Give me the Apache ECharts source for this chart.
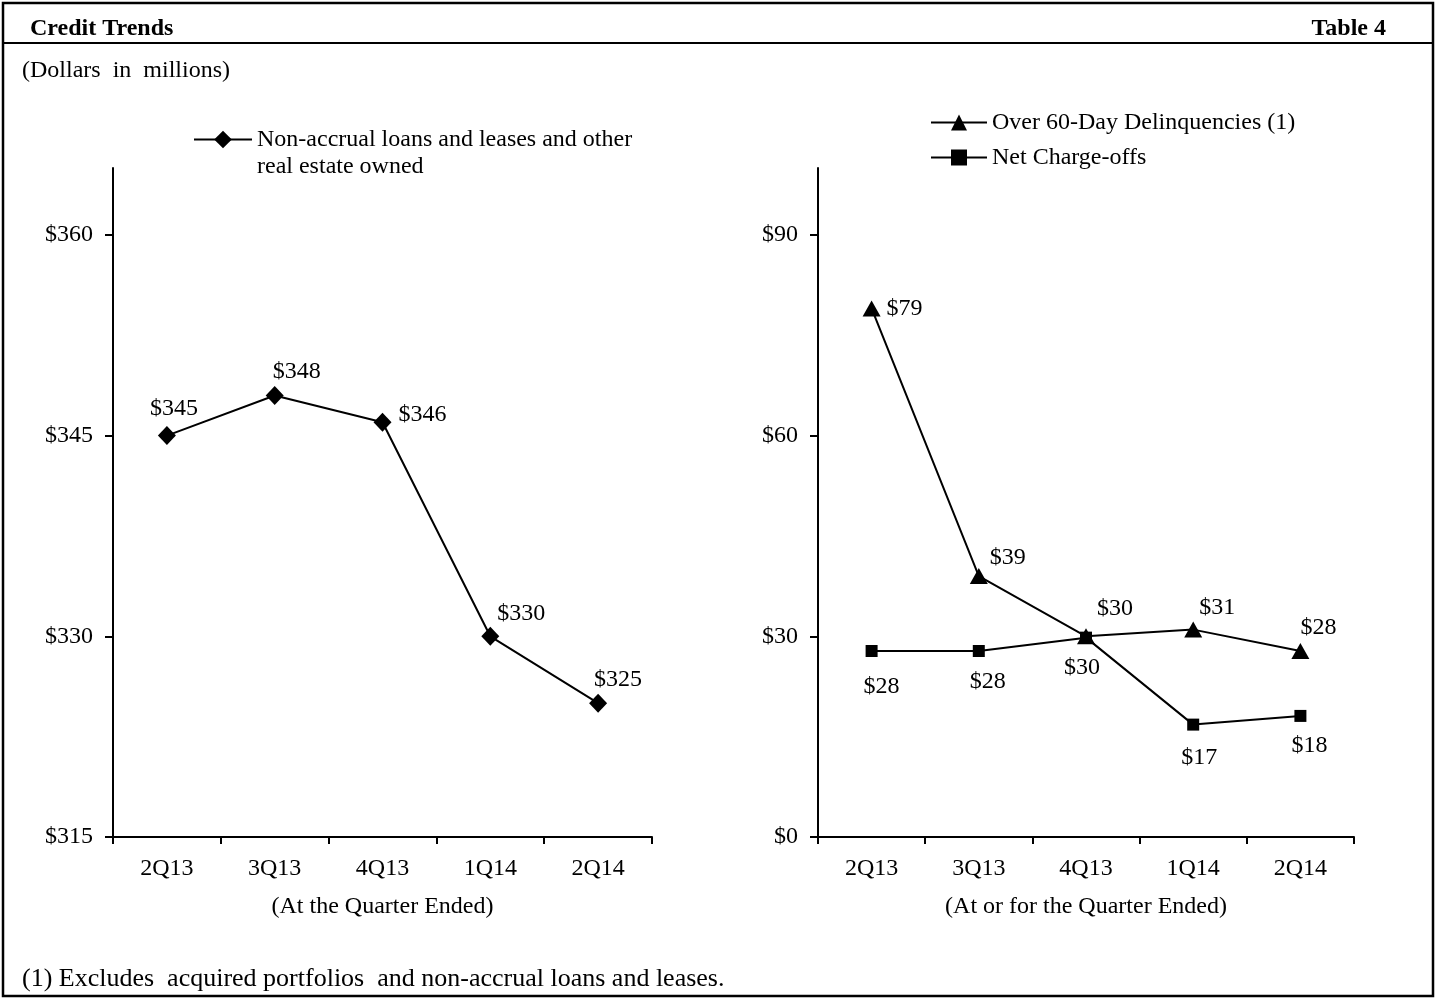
<!DOCTYPE html>
<html><head><meta charset="utf-8">
<script src="https://cdn.jsdelivr.net/npm/echarts@6/dist/echarts.min.js"></script>
<style>html,body{margin:0;padding:0;background:#fff}#c{width:1438px;height:999px}</style>
</head><body><div id="c"></div>
<script>
// ---- data ----
const categories = ['2Q13', '3Q13', '4Q13', '1Q14', '2Q14'];
const nonAccrual = [345, 348, 346, 330, 325];
const delinquencies = [79, 39, 30, 31, 27.8];
const chargeOffs = [27.8, 27.8, 29.8, 16.8, 18.1];
const leftTicks = [315, 330, 345, 360];
const rightTicks = [0, 30, 60, 90];

// ---- styling (label offsets) ----
const FF = "'Liberation Serif', 'Times New Roman', serif";
const leftOff = [[7, -27], [22, -24], [40, -8], [31, -23], [20, -23]];
const triOff = [[33, 0], [29, -18], [29, -28], [24, -22], [18, -23]];
const sqOff = [[10, 36], [9, 31], [-4, 30], [6, 33], [9, 30]];

function withLabels(vals, offs) {
  return vals.map((v, i) => ({
    value: v,
    label: { offset: offs[i] }
  }));
}
const lbl = {
  show: true, position: 'inside', color: '#000', fontFamily: FF, fontSize: 24,
  textBorderWidth: 0, formatter: p => '$' + Math.round(p.value)
};

function xAx(idx, name) {
  return {
    type: 'category', gridIndex: idx, data: categories, boundaryGap: true,
    axisLine: { show: true, onZero: false, lineStyle: { color: '#000', width: 2 } },
    axisTick: { show: true, length: 7, lineStyle: { color: '#000', width: 2 } },
    axisLabel: { color: '#000', fontFamily: FF, fontSize: 24, margin: 20 },
    name: name, nameLocation: 'middle', nameGap: 58,
    nameTextStyle: { color: '#000', fontFamily: FF, fontSize: 24 },
    splitLine: { show: false }
  };
}
function yAx(idx, min, max, interval, ticks) {
  return {
    type: 'value', gridIndex: idx, min: min, max: max, interval: interval,
    axisLine: { show: true, lineStyle: { color: '#000', width: 2 } },
    axisTick: { show: true, length: 8, customValues: ticks, lineStyle: { color: '#000', width: 2 } },
    axisLabel: { color: '#000', fontFamily: FF, fontSize: 24, margin: 20,
      customValues: ticks, formatter: v => '$' + v },
    splitLine: { show: false }
  };
}

const chart = echarts.init(document.getElementById('c'), null, { renderer: 'canvas' });
chart.setOption({
  backgroundColor: '#fff',
  animation: false,
  grid: [
    { left: 113, top: 168, width: 539, height: 669 },
    { left: 818, top: 168, width: 536, height: 669 }
  ],
  xAxis: [xAx(0, '(At the Quarter Ended)'), xAx(1, '(At or for the Quarter Ended)')],
  yAxis: [yAx(0, 315, 365, 15, leftTicks), yAx(1, 0, 100, 30, rightTicks)],
  legend: [
    {
      data: ['Non-accrual loans and leases and other real estate owned'],
      left: 188, top: 94, itemWidth: 58, itemHeight: 22, itemGap: 0,
      formatter: () => ' \nNon-accrual loans and leases and other\nreal estate owned',
      textStyle: { color: '#000', fontFamily: FF, fontSize: 24, lineHeight: 27 }
    },
    {
      data: ['Over 60-Day Delinquencies (1)', 'Net Charge-offs'],
      orient: 'vertical', left: 925, top: 104, itemWidth: 56, itemHeight: 20, itemGap: 8,
      textStyle: { color: '#000', fontFamily: FF, fontSize: 24, lineHeight: 27 }
    }
  ],
  series: [
    {
      name: 'Non-accrual loans and leases and other real estate owned',
      type: 'line', xAxisIndex: 0, yAxisIndex: 0,
      data: withLabels(nonAccrual, leftOff),
      symbol: 'diamond', symbolSize: [18, 19],
      lineStyle: { color: '#000', width: 2 }, itemStyle: { color: '#000' },
      label: lbl
    },
    {
      name: 'Over 60-Day Delinquencies (1)',
      type: 'line', xAxisIndex: 1, yAxisIndex: 1,
      data: withLabels(delinquencies, triOff),
      symbol: 'triangle', symbolSize: [18, 16],
      lineStyle: { color: '#000', width: 2 }, itemStyle: { color: '#000' },
      label: lbl
    },
    {
      name: 'Net Charge-offs',
      type: 'line', xAxisIndex: 1, yAxisIndex: 1,
      data: withLabels(chargeOffs, sqOff),
      symbol: 'rect', symbolSize: 12,
      lineStyle: { color: '#000', width: 2 }, itemStyle: { color: '#000' },
      label: lbl
    }
  ],
  graphic: [
    { type: 'rect', shape: { x: 3, y: 3, width: 1430, height: 993 },
      style: { fill: 'none', stroke: '#000', lineWidth: 2.5 }, silent: true },
    { type: 'line', shape: { x1: 3, y1: 43, x2: 1433, y2: 43 },
      style: { stroke: '#000', lineWidth: 2 }, silent: true },
    { type: 'text', left: 30, top: 17,
      style: { text: 'Credit Trends', fill: '#000', font: "bold 24px 'Liberation Serif', serif" } },
    { type: 'text', right: 52, top: 17,
      style: { text: 'Table 4', fill: '#000', font: "bold 24px 'Liberation Serif', serif" } },
    { type: 'text', left: 22, top: 59,
      style: { text: '(Dollars  in  millions)', fill: '#000', font: "24px 'Liberation Serif', serif" } },
    { type: 'text', left: 22, top: 966,
      style: { text: '(1) Excludes  acquired portfolios  and non-accrual loans and leases.', fill: '#000', font: "26px 'Liberation Serif', serif" } }
  ]
});
</script>
</body></html>
